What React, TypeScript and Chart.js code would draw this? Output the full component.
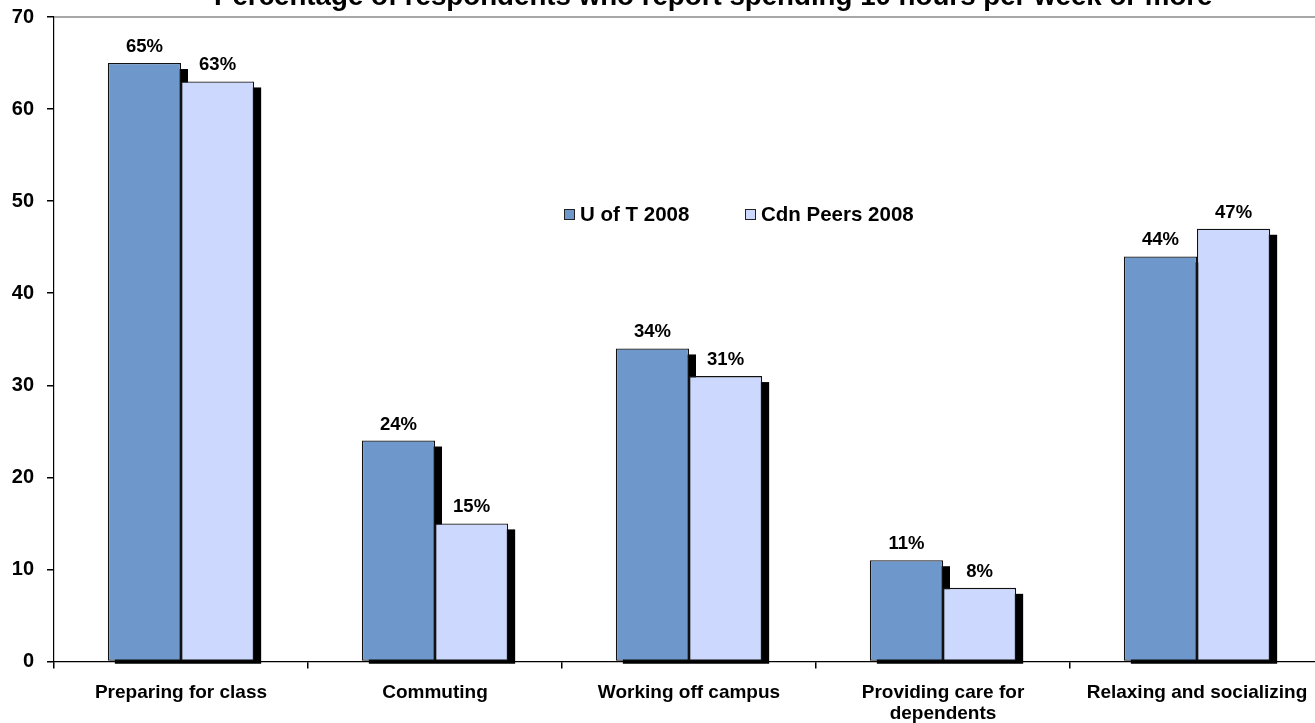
import React, { useEffect, useRef } from 'react';
import { Chart, registerables } from 'chart.js';

Chart.register(...registerables);

const titleText = 'Percentage of respondents who report spending 10 hours per week or more';
const categories: (string | string[])[] = [
  'Preparing for class',
  'Commuting',
  'Working off campus',
  ['Providing care for', 'dependents'],
  'Relaxing and socializing',
];
const seriesNames = ['U of T 2008', 'Cdn Peers 2008'];
const uoftValues = [65, 24, 34, 11, 44];
const peersValues = [63, 15, 31, 8, 47];
const yMin = 0;
const yMax = 70;
const yStep = 10;

const FONT = "'Liberation Sans', Arial, Helvetica, sans-serif";
const COLORS = ['#6E97CC', '#CCD8FD'];
const BORDER = '#111';

const shadowPlugin = {
  id: 'barShadow',
  beforeDatasetsDraw(chart: any) {
    const ctx = chart.ctx;
    ctx.save();
    ctx.fillStyle = '#000';
    chart.data.datasets.forEach((_d: any, i: number) => {
      const meta = chart.getDatasetMeta(i);
      meta.data.forEach((bar: any) => {
        const w = bar.width;
        const left = bar.x - w / 2 + 7;
        const top = bar.y + 6;
        const bottom = bar.base + 3;
        ctx.fillRect(left, top, w, bottom - top);
      });
    });
    ctx.restore();
  },
};

const valueLabelPlugin = {
  id: 'valueLabels',
  afterDatasetsDraw(chart: any) {
    const ctx = chart.ctx;
    ctx.save();
    ctx.font = `bold 18.5px ${FONT}`;
    ctx.fillStyle = '#000';
    ctx.textAlign = 'center';
    ctx.textBaseline = 'alphabetic';
    chart.data.datasets.forEach((d: any, i: number) => {
      const meta = chart.getDatasetMeta(i);
      meta.data.forEach((bar: any, j: number) => {
        ctx.fillText(`${d.data[j]}%`, bar.x, bar.y - 11);
      });
    });
    ctx.restore();
  },
};

const decorPlugin = {
  id: 'decor',
  afterDraw(chart: any) {
    const ctx = chart.ctx;
    const a = chart.chartArea;
    ctx.save();
    // plot area top / right border
    ctx.strokeStyle = '#8a8a8a';
    ctx.lineWidth = 1.5;
    ctx.beginPath();
    ctx.moveTo(a.left, a.top);
    ctx.lineTo(a.right, a.top);
    ctx.lineTo(a.right, a.bottom);
    ctx.stroke();
    // title (partly cut off at the top, as in the reference)
    ctx.fillStyle = '#000';
    ctx.font = `bold 27.7px ${FONT}`;
    ctx.textAlign = 'left';
    ctx.textBaseline = 'alphabetic';
    ctx.fillText(titleText, 214, 5);
    // legend
    ctx.font = `bold 20.5px ${FONT}`;
    const items = [
      { x: 564, text: seriesNames[0], color: COLORS[0] },
      { x: 745, text: seriesNames[1], color: COLORS[1] },
    ];
    items.forEach((it) => {
      ctx.fillStyle = it.color;
      ctx.fillRect(it.x, 209, 11, 10);
      ctx.strokeStyle = '#222';
      ctx.lineWidth = 1;
      ctx.strokeRect(it.x + 0.5, 209.5, 10, 10);
      ctx.fillStyle = '#000';
      ctx.fillText(it.text, it.x + 16, 221);
    });
    ctx.restore();
  },
};

export default function App() {
  const ref = useRef<HTMLCanvasElement | null>(null);

  useEffect(() => {
    if (!ref.current) return;
    Chart.defaults.font.family = FONT;
    Chart.defaults.color = '#000';
    const chart = new Chart(ref.current, {
      type: 'bar',
      data: {
        labels: categories as any,
        datasets: [
          {
            label: seriesNames[0],
            data: uoftValues,
            backgroundColor: COLORS[0],
            borderColor: BORDER,
            borderWidth: 1.3,
            borderSkipped: false,
            categoryPercentage: 0.576,
            barPercentage: 1,
          },
          {
            label: seriesNames[1],
            data: peersValues,
            backgroundColor: COLORS[1],
            borderColor: BORDER,
            borderWidth: 1.3,
            borderSkipped: false,
            categoryPercentage: 0.576,
            barPercentage: 1,
          },
        ],
      },
      options: {
        responsive: false,
        animation: false,
        layout: { padding: { top: 17, right: 6, bottom: 0, left: 0 } },
        plugins: {
          legend: { display: false },
          title: { display: false },
          tooltip: { enabled: false },
        },
        scales: {
          x: {
            grid: {
              offset: true,
              drawOnChartArea: false,
              tickLength: 7,
              color: '#000',
              lineWidth: 1.5,
            },
            border: { display: true, color: '#000', width: 1.2 },
            ticks: {
              padding: 14,
              font: { family: FONT, size: 19, weight: 'bold', lineHeight: 1.1 },
              color: '#000',
              maxRotation: 0,
              autoSkip: false,
            },
            afterFit(scale: any) {
              scale.height = 61.5;
              scale.paddingLeft = 0;
              scale.paddingRight = 0;
            },
          },
          y: {
            min: yMin,
            max: yMax,
            ticks: {
              stepSize: yStep,
              padding: 13,
              font: { family: FONT, size: 20, weight: 'bold' },
              color: '#000',
            },
            grid: {
              drawOnChartArea: false,
              tickLength: 7,
              color: '#000',
              lineWidth: 1.5,
            },
            border: { display: true, color: '#000', width: 1.2 },
            afterFit(scale: any) {
              scale.width = 54;
              scale.paddingTop = 0;
              scale.paddingBottom = 0;
            },
          },
        },
      },
      plugins: [shadowPlugin, valueLabelPlugin, decorPlugin],
    });
    return () => chart.destroy();
  }, []);

  return (
    <div
      style={{
        position: 'fixed',
        top: 0,
        left: 0,
        width: 1315,
        height: 723,
        overflow: 'hidden',
        background: '#fff',
      }}
    >
      <canvas ref={ref} width={1330} height={723} style={{ display: 'block' }} />
    </div>
  );
}
